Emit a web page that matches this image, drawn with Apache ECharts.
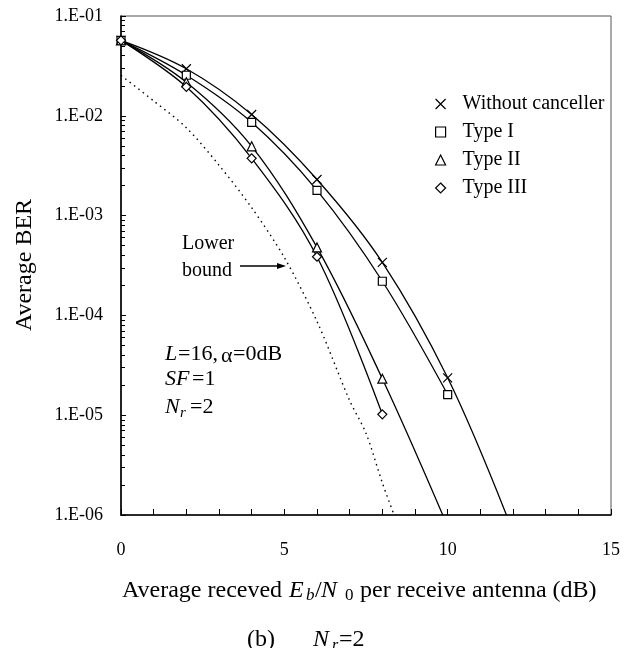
<!DOCTYPE html>
<html>
<head>
<meta charset="utf-8">
<script src="https://cdn.jsdelivr.net/npm/echarts@6/dist/echarts.min.js"></script>
<style>
    html, body { margin: 0; padding: 0; background: #fff; }
    #main { width: 637px; height: 648px; }
</style>
</head>
<body>
<div id="main"></div>
<script>
// Eb/N0 (dB) where markers are plotted
let snr = [0, 2, 4, 6, 8, 10]
let berWithout = [0.057, 0.0296, 0.0103, 0.0023, 0.00034, 0.0000237]
let berType1 = [0.057, 0.0255, 0.0086, 0.00179, 0.00022, 0.0000161]
let berType2 = [0.057, 0.0217, 0.00495, 0.00048, 0.0000232]
let berType3 = [0.057, 0.0195, 0.00375, 0.000387, 0.0000102]
// the curves that run on past the last marker down to the bottom of the plot
let tailWithout = [[11.8, 0.000001]]
let tailType2 = [[9.85, 0.000001]]
// lower bound (dotted)
let lbSnr = [0, 1, 2, 3, 4, 5, 6, 7, 7.5, 8, 8.36]
let lbBer = [0.0254, 0.0141, 0.0076, 0.0032, 0.0012, 0.00038, 0.000087, 0.000014, 0.0000066, 0.0000021, 0.000001]

let legendNames = ['Without canceller', 'Type I', 'Type II', 'Type III']
let yTicks = ['1.E-06', '1.E-05', '1.E-04', '1.E-03', '1.E-02', '1.E-01']

const FONT = 'Liberation Serif, Times New Roman, serif'
const CROSS = 'path://M0,0L10,10M10,0L0,10'

function points(xs, ys, tail) {
    let d = ys.map((v, i) => ({value: [xs[i], v]}))
    ;(tail || []).forEach(p => d.push({value: p, symbol: 'none'}))
    return d
}

function curve(name, symbol, size, data) {
    return {
        name: name,
        type: 'line',
        smooth: 0.35,
        data: data,
        symbol: symbol,
        symbolSize: size,
        showAllSymbol: true,
        lineStyle: {color: '#000', width: 1.3},
        itemStyle: {color: '#fff', borderColor: '#000', borderWidth: 1.2},
        z: 3,
        silent: true
    }
}

function txt(x, y, text, size, extra) {
    return {
        type: 'text', x: x, y: y, silent: true,
        style: Object.assign({
            text: text, fontSize: size, fontFamily: FONT, fill: '#000',
            align: 'left', verticalAlign: 'middle'
        }, extra || {})
    }
}

let chart = echarts.init(document.getElementById('main'))
let yName = txt(25, 265, 'Average BER', 24, {align: 'center'})
yName.rotation = Math.PI / 2

let option = {
    backgroundColor: '#fff',
    animation: false,
    grid: {
        left: 121, top: 16, right: 26, bottom: 133,
        show: true, borderColor: '#555', borderWidth: 1
    },
    legend: {
        orient: 'vertical',
        left: 430, top: 89,
        itemWidth: 10, itemHeight: 10, itemGap: 8, itemTextGap: 28,
        selectedMode: false,
        textStyle: {fontFamily: FONT, fontSize: 20, color: '#000', padding: [0, 0, 0, 12]},
        itemStyle: {color: '#fff', borderColor: '#000', borderWidth: 1.2},
        data: [
            {name: legendNames[0], icon: CROSS},
            {name: legendNames[1], icon: 'rect'},
            {name: legendNames[2], icon: 'triangle'},
            {name: legendNames[3], icon: 'diamond'}
        ]
    },
    xAxis: {
        type: 'value',
        min: 0, max: 15, interval: 5,
        axisLine: {lineStyle: {color: '#000', width: 1.6}},
        axisTick: {inside: true, length: 6, lineStyle: {color: '#000'}},
        minorTick: {show: true, splitNumber: 5, length: 6, lineStyle: {color: '#000'}},
        splitLine: {show: false},
        axisLabel: {color: '#000', fontFamily: FONT, fontSize: 18, margin: 26}
    },
    yAxis: {
        type: 'log',
        logBase: 10,
        min: 0.000001, max: 0.1,
        axisLine: {show: true, lineStyle: {color: '#000', width: 1.6}},
        axisTick: {inside: true, length: 5, lineStyle: {color: '#000'}},
        minorTick: {show: true, splitNumber: 9, length: 4, lineStyle: {color: '#000'}},
        splitLine: {show: false},
        minorSplitLine: {show: false},
        axisLabel: {
            color: '#000', fontFamily: FONT, fontSize: 18, margin: 18,
            formatter: v => yTicks[Math.round(Math.log10(v)) + 6]
        }
    },
    series: [
        curve(legendNames[0], CROSS, 9, points(snr, berWithout, tailWithout)),
        curve(legendNames[1], 'rect', 8, points(snr, berType1)),
        curve(legendNames[2], 'triangle', 9, points(snr, berType2, tailType2)),
        curve(legendNames[3], 'diamond', 9, points(snr, berType3)),
        {
            name: 'Lower bound',
            type: 'line',
            smooth: 0.3,
            data: lbSnr.map((x, i) => [x, lbBer[i]]),
            symbol: 'none',
            lineStyle: {color: '#000', width: 1.4, type: [1.5, 4]},
            silent: true
        }
    ],
    graphic: [
        yName,
        txt(122, 591, 'Average receved', 24),
        txt(289, 591, 'E', 24, {fontStyle: 'italic'}),
        txt(306, 596, 'b', 17, {fontStyle: 'italic'}),
        txt(315, 591, '/', 24),
        txt(321, 591, 'N', 24, {fontStyle: 'italic'}),
        txt(345, 596, '0', 17),
        txt(360, 591, 'per receive antenna (dB)', 24),
        txt(261, 640, '(b)', 24, {align: 'center'}),
        txt(313, 640, 'N', 24, {fontStyle: 'italic'}),
        txt(332, 646, 'r', 16, {fontStyle: 'italic'}),
        txt(339, 640, '=2', 24),

        txt(182, 244, 'Lower', 20),
        txt(182, 271, 'bound', 20),
        {type: 'line', silent: true, shape: {x1: 240, y1: 266, x2: 279, y2: 266}, style: {stroke: '#000', lineWidth: 1.3}},
        {type: 'polygon', silent: true, shape: {points: [[286, 266], [277, 263], [277, 269]]}, style: {fill: '#000'}},

        txt(165, 354, 'L', 22, {fontStyle: 'italic'}),
        txt(178, 354, '=16,', 22),
        txt(221, 356, 'α', 22),
        txt(233, 354, '=0dB', 22),
        txt(165, 379, 'SF', 22, {fontStyle: 'italic'}),
        txt(192, 379, '=1', 22),
        txt(165, 407, 'N', 22, {fontStyle: 'italic'}),
        txt(180, 413, 'r', 15, {fontStyle: 'italic'}),
        txt(190, 407, '=2', 22)
    ]
}
chart.setOption(option)
</script>
</body>
</html>
